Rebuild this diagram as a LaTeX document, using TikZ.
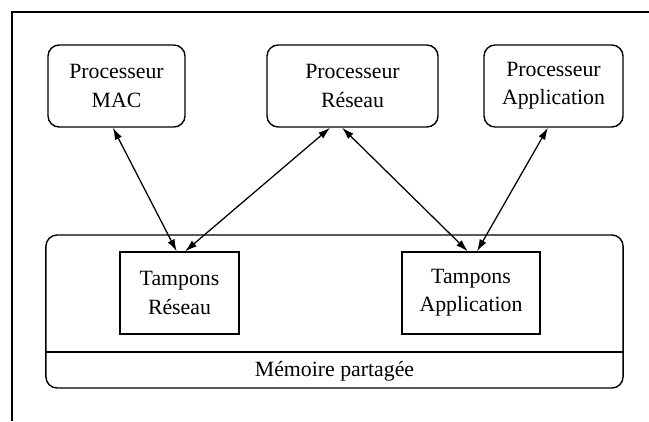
\documentclass[tikz,border=0pt]{standalone}
\usepackage{fontspec}
\setmainfont{Liberation Serif}
\usepackage{tikz}
\usetikzlibrary{arrows.meta}

\begin{document}
\begin{tikzpicture}[x=0.025cm,y=-0.025cm,>={Latex[length=3mm,width=1.9mm]}]
    \tikzstyle{every node}=[font=\fontsize{15.5}{20}\selectfont,align=center,inner sep=0pt];
    \tikzstyle{proc}=[draw,line width=1pt,rounded corners=0.28cm,minimum height=2.05cm];
    \tikzstyle{tamp}=[draw,line width=0.9pt,minimum height=2.05cm];
    \useasboundingbox (0,0) rectangle (649,421);
    \draw[line width=1.1pt] (12,421) -- (12,12) -- (649,12);

    \node[proc,minimum width=3.425cm] at (116.5,86)  (p0) {Processeur\\MAC};
    \node[proc,minimum width=4.275cm] at (352.5,86)  (p1) {Processeur\\Réseau};
    \node[proc,minimum width=3.475cm] at (553.5,86)  (p2) {Processeur\\Application};

    % memoire
    \node[draw,line width=1pt,rounded corners=0.28cm,minimum width=14.425cm,minimum height=3.825cm] at (334.5,311.5) (m) {};
    \draw[line width=0.9pt] (46,352) -- (623,352);
    \node at (334.5,371) (mt) {Mémoire partagée};

    \node[tamp,minimum width=2.975cm] at (179.5,293) (t0) {Tampons\\Réseau};
    \node[tamp,minimum width=3.45cm]  at (471,293)   (t1) {Tampons\\Application};

    \draw[<->,line width=0.9pt] ([xshift=-0.09cm]p0.south) to ([xshift=-0.07cm]t0.north);
    \draw[<->,line width=0.9pt] ([xshift=-0.56cm]p1.south) to ([xshift=0.14cm]t0.north);
    \draw[<->,line width=0.9pt] ([xshift=-0.26cm]p1.south) to ([xshift=-0.08cm]t1.north);
    \draw[<->,line width=0.9pt] ([xshift=-0.14cm]p2.south) to ([xshift=0.15cm]t1.north);
\end{tikzpicture}
\end{document}
